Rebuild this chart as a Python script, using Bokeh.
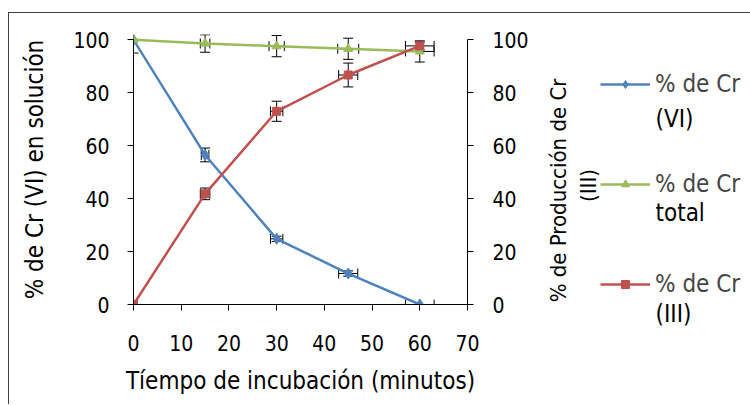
import math
from bokeh.plotting import figure
from bokeh.models import (Range1d, LinearAxis, Legend, LegendItem, Whisker, TeeHead,
                          ColumnDataSource, FixedTicker, Label)
from bokeh.embed import file_html
from bokeh.resources import INLINE

# ---- data ----
minutes = [0, 15, 30, 45, 60]
cr_vi = [100, 56.5, 24.8, 11.7, 0]
cr_total = [100, 98.6, 97.6, 96.6, 95.6]
cr_iii = [0, 41.8, 73.0, 86.7, 97.7]

cr_vi_yerr = [5, 2.6, 1.0, 1.0, 0]
cr_vi_xerr = [0, 0.8, 1.3, 2.0, 3.0]
cr_total_yerr = [0, 3.3, 4.0, 4.0, 4.0]
cr_total_xerr = [0, 1.0, 1.6, 2.2, 3.0]
cr_iii_yerr = [0, 2.2, 3.8, 4.5, 1.5]
cr_iii_xerr = [0, 1.0, 1.3, 2.0, 3.0]

x_ticks = [0, 10, 20, 30, 40, 50, 60, 70]
y_ticks = [0, 20, 40, 60, 80, 100]

legend_first = ["% de Cr", "% de Cr", "% de Cr"]
legend_second = ["(VI)", "total", "(III)"]
x_title = "Tíempo de incubación (minutos)"
y_title = "% de Cr (VI) en solución"
y2_title_lines = ["% de Producción de Cr", "(III)"]

FONT = "DejaVu Sans Condensed"
BLUE, GREEN, RED = "#4F81BD", "#9BBB59", "#C0504D"
TICK_FS = "21px"
TITLE_FS = "24px"
LEG_FS = "24px"

p = figure(width=531, height=392, output_backend="svg", toolbar_location=None,
           x_range=Range1d(0, 70), y_range=Range1d(0, 102),
           min_border_left=124, min_border_right=73, min_border_top=21,
           min_border_bottom=101)
p.styles = {"margin-left": "8px", "margin-top": "12px",
            "border-left": "1px solid #404040", "border-top": "1px solid #404040"}
p.extra_y_ranges = {"right": Range1d(0, 102)}
p.grid.visible = False
p.outline_line_color = None

def style_axis(ax):
    ax.axis_line_color = "black"
    ax.major_tick_line_color = "black"
    ax.minor_tick_line_color = None
    ax.major_tick_in = 0
    ax.major_tick_out = 6
    ax.major_label_text_font = FONT
    ax.major_label_text_font_size = TICK_FS
    ax.major_label_text_color = "black"
    ax.axis_label_text_font = FONT
    ax.axis_label_text_font_size = TITLE_FS
    ax.axis_label_text_font_style = "normal"
    ax.axis_label_text_color = "black"

xa = p.xaxis[0]
style_axis(xa)
xa.ticker = FixedTicker(ticks=x_ticks)
xa.axis_label = x_title
xa.major_label_standoff = 24
xa.axis_label_standoff = 13

ya = p.yaxis[0]
style_axis(ya)
ya.ticker = FixedTicker(ticks=y_ticks)
ya.bounds = (0, 100)
ya.axis_label = y_title
ya.major_label_standoff = 18
ya.axis_label_standoff = 21

ya2 = LinearAxis(y_range_name="right", ticker=FixedTicker(ticks=y_ticks), bounds=(0, 100))
style_axis(ya2)
ya2.major_label_standoff = 19
p.add_layout(ya2, "right")

# legend / right title panel (separate root, placed to the right of the chart)
q = figure(width=214, height=392, output_backend="svg", toolbar_location=None,
           x_range=Range1d(0, 214), y_range=Range1d(0, 392),
           x_axis_type=None, y_axis_type=None, min_border=0)
q.styles = {"position": "absolute", "left": "536px", "top": "12px",
            "border-top": "1px solid #404040"}
q.grid.visible = False
q.outline_line_color = None

series = [
    (cr_vi, cr_vi_yerr, cr_vi_xerr, BLUE, "diamond", 11),
    (cr_total, cr_total_yerr, cr_total_xerr, GREEN, "triangle", 9),
    (cr_iii, cr_iii_yerr, cr_iii_xerr, RED, "square", 8),
]
items = []
for (vals, yerr, xerr, color, marker, size), lab in zip(series, legend_first):
    src = ColumnDataSource(dict(
        x=minutes, y=vals,
        ylo=[v - e for v, e in zip(vals, yerr)], yhi=[v + e for v, e in zip(vals, yerr)],
        xlo=[m - e for m, e in zip(minutes, xerr)], xhi=[m + e for m, e in zip(minutes, xerr)],
    ))
    p.line("x", "y", source=src, line_color=color, line_width=2.5)
    p.scatter("x", "y", source=src, marker=marker, size=size,
              fill_color=color, line_color=color)
    p.add_layout(Whisker(source=src, base="x", lower="ylo", upper="yhi", dimension="height",
                         line_color="black", line_width=1,
                         lower_head=TeeHead(size=10, line_color="black", line_width=1),
                         upper_head=TeeHead(size=10, line_color="black", line_width=1)))
    p.add_layout(Whisker(source=src, base="y", lower="xlo", upper="xhi", dimension="width",
                         line_color="black", line_width=1,
                         lower_head=TeeHead(size=10, line_color="black", line_width=1),
                         upper_head=TeeHead(size=10, line_color="black", line_width=1)))
    # legend swatches: same series style, drawn outside the legend panel's view
    ln2 = q.line(x=[-1000, -999], y=[-1000, -1000], line_color=color, line_width=2.5)
    mk2 = q.scatter(x=[-1000], y=[-1000], marker=marker, size=size * 0.8,
                    fill_color=color, line_color=color)
    items.append(LegendItem(label=lab, renderers=[ln2, mk2]))

legend = Legend(items=items, location=(64, 107), glyph_width=50, glyph_height=20,
                label_height=20, label_standoff=5, spacing=72, padding=0, margin=0,
                label_text_font=FONT, label_text_font_size=LEG_FS,
                label_text_baseline="middle",
                border_line_color=None, background_fill_alpha=0)
q.add_layout(legend, "center")

for txt, yy in zip(legend_second, [287, 193, 92]):
    q.add_layout(Label(x=119, y=yy, x_units="screen", y_units="screen", text=txt,
                       text_font=FONT, text_font_size=LEG_FS, text_color="black",
                       text_align="left", text_baseline="middle"))

for txt, xx, yy in zip(y2_title_lines, [22, 52], [215, 220]):
    q.add_layout(Label(x=xx, y=yy, x_units="screen", y_units="screen", text=txt,
                       angle=math.pi / 2, text_font=FONT, text_font_size="22px",
                       text_color="black", text_align="center", text_baseline="middle"))

open("out.html", "w").write(file_html([p, q], INLINE))
